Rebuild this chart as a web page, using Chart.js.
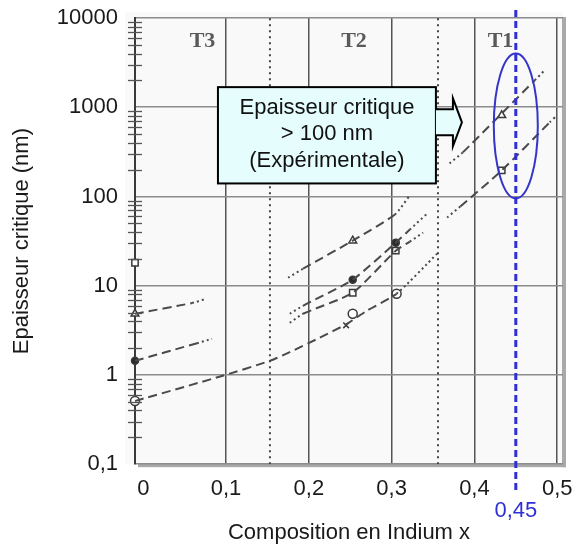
<!DOCTYPE html>
<html><head><meta charset="utf-8">
<script src="https://cdn.jsdelivr.net/npm/chart.js@4/dist/chart.umd.min.js"></script>
<style>html,body{margin:0;padding:0;background:#fff}#wrap{width:572px;height:547px}</style>
</head><body><div id="wrap"><canvas id="c" width="572" height="547"></canvas></div>
<script>
// ---- data ----
const xTicks = [0, 0.1, 0.2, 0.3, 0.4, 0.5];
const yTicks = [0.1, 1, 10, 100, 1000, 10000];
const regionNames = ['T3', 'T2', 'T1'];
const regionBounds = [0.153, 0.356];
const markedX = 0.45;
const markedLabel = '0,45';
const ellipseRange = [95, 4000];
const boxLines = ['Epaisseur critique', '> 100 nm', '(Expérimentale)'];

const curveT3Triangle = [{x:-0.01,y:4.85},{x:0.059,y:6.4},{x:0.075,y:7.1}];
const curveT3Dot      = [{x:-0.01,y:1.44},{x:0.065,y:2.27},{x:0.083,y:2.54}];
const curveCircle     = [{x:-0.01,y:0.51},{x:0.096,y:0.98},{x:0.153,y:1.44},{x:0.177,y:1.8},{x:0.213,y:2.61},{x:0.246,y:3.74},{x:0.27,y:5.24},{x:0.306,y:8.13},{x:0.355,y:22.9}];
const curveT2Dot      = [{x:0.177,y:4.85},{x:0.193,y:5.96},{x:0.253,y:11.7},{x:0.305,y:30.4},{x:0.322,y:42.6},{x:0.343,y:64.4}];
const curveT2Square   = [{x:0.177,y:3.84},{x:0.193,y:4.85},{x:0.253,y:8.35},{x:0.305,y:24.7},{x:0.322,y:31.2},{x:0.338,y:39.4}];
const curveT2Triangle = [{x:0.175,y:12.3},{x:0.193,y:15.5},{x:0.253,y:32},{x:0.304,y:62.8},{x:0.322,y:103}];
const curveT1Triangle = [{x:0.370,y:235},{x:0.386,y:312},{x:0.473,y:2009},{x:0.485,y:2605}];
const curveT1Square   = [{x:0.367,y:58.1},{x:0.383,y:77.3},{x:0.433,y:196},{x:0.491,y:678},{x:0.4997,y:813}];

const markTriangles = [{x:-0.01,y:4.85},{x:0.253,y:32},{x:0.433,y:813}];
const markDots      = [{x:-0.01,y:1.44},{x:0.253,y:11.7},{x:0.305,y:30.4}];
const markSquares   = [{x:-0.01,y:18.1},{x:0.253,y:8.35},{x:0.305,y:24.7},{x:0.433,y:196}];
const markCircles   = [{x:-0.01,y:0.51},{x:0.253,y:4.85},{x:0.306,y:8.13}];
const markCross     = [{x:0.245,y:3.6}];

// ---- styles ----
const FONT = "'Liberation Sans', Arial, sans-serif";
const INK = '#4a4a4a';
function curve(data, dotFirst, dotLast) {
  const n = data.length;
  return {
    data, showLine: true, pointRadius: 0, borderColor: INK, borderWidth: 2,
    borderDash: [9, 5], tension: 0.2, fill: false,
    segment: { borderDash: ctx => ((dotFirst && ctx.p0DataIndex === 0) || (dotLast && ctx.p1DataIndex === n - 1)) ? [2, 3] : undefined }
  };
}
function marks(data, style, filled, r) {
  return { data, showLine: false, clip: false, pointStyle: style, pointRadius: r || 4.5, borderWidth: 1.5,
    borderColor: '#3a3a3a', backgroundColor: filled ? '#2a2a2a' : '#ffffff' };
}
function separator(v) {
  return { data: [{x:v,y:yTicks[0]},{x:v,y:yTicks[yTicks.length-1]}], showLine: true, pointRadius: 0,
    borderColor: '#444', borderWidth: 2, borderDash: [2, 4] };
}

const decor = {
  id: 'decor',
  beforeDraw(chart) {
    const {ctx, chartArea: ca} = chart;
    ctx.save();
    ctx.fillStyle = '#f9f9f9';
    ctx.fillRect(ca.left - 10, ca.top - 6, ca.right - ca.left + 10, ca.bottom - ca.top + 6);
    ctx.fillStyle = '#a9a9a9';
    ctx.fillRect(ca.right - 1, ca.top - 1, 4, ca.bottom - ca.top + 4);
    ctx.fillRect(ca.left + 3, ca.bottom - 1, ca.right - ca.left, 4);
    ctx.restore();
  },
  afterDatasetsDraw(chart) {
    const {ctx, chartArea: ca, scales: {x, y}} = chart;
    ctx.save();
    ctx.strokeStyle = '#555'; ctx.lineWidth = 1.3;
    for (let d = -1; d < 4; d++) for (let m = 2; m <= 9; m++) {
      const py = Math.round(y.getPixelForValue(m * Math.pow(10, d))) + 0.5;
      ctx.beginPath(); ctx.moveTo(ca.left - 7, py); ctx.lineTo(ca.left + 7, py); ctx.stroke();
    }
    const b = [ca.left, x.getPixelForValue(regionBounds[0]), x.getPixelForValue(regionBounds[1]), ca.right];
    ctx.fillStyle = '#5a5a5a';
    ctx.font = "bold 22px 'Liberation Serif', 'Times New Roman', serif";
    ctx.textAlign = 'center'; ctx.textBaseline = 'middle';
    regionNames.forEach((t, i) => ctx.fillText(t, (b[i] + b[i + 1]) / 2, ca.top + 23));
    ctx.restore();
  },
  afterDraw(chart) {
    const {ctx, chartArea: ca, scales: {x, y}} = chart;
    ctx.save();
    const bx0 = x.getPixelForValue(0.0902), bx1 = x.getPixelForValue(0.3535);
    const by0 = y.getPixelForValue(1680), by1 = y.getPixelForValue(140);
    ctx.fillStyle = '#e6fdfd'; ctx.strokeStyle = '#000'; ctx.lineWidth = 2;
    ctx.fillRect(bx0, by0, bx1 - bx0, by1 - by0);
    ctx.strokeRect(bx0, by0, bx1 - bx0, by1 - by0);
    ctx.fillStyle = '#111'; ctx.font = '22px ' + FONT; ctx.textAlign = 'center'; ctx.textBaseline = 'middle';
    const cx = (bx0 + bx1) / 2, lh = 26.5, cy = (by0 + by1) / 2;
    boxLines.forEach((t, i) => ctx.fillText(t, cx, cy + (i - 1) * lh - 1));
    const ay = cy - 13;
    ctx.beginPath();
    ctx.moveTo(bx1, ay - 13); ctx.lineTo(bx1 + 17, ay - 13); ctx.lineTo(bx1 + 17, ay - 24);
    ctx.lineTo(bx1 + 26, ay); ctx.lineTo(bx1 + 17, ay + 24); ctx.lineTo(bx1 + 17, ay + 13);
    ctx.lineTo(bx1, ay + 13);
    ctx.fillStyle = '#e6fdfd'; ctx.fill(); ctx.lineWidth = 2; ctx.strokeStyle = '#000'; ctx.stroke();
    const ex = x.getPixelForValue(markedX);
    const ey0 = y.getPixelForValue(ellipseRange[1]), ey1 = y.getPixelForValue(ellipseRange[0]);
    ctx.beginPath(); ctx.ellipse(ex, (ey0 + ey1) / 2, 22, (ey1 - ey0) / 2, 0, 0, Math.PI * 2);
    ctx.strokeStyle = '#3535c8'; ctx.lineWidth = 2; ctx.stroke();
    ctx.beginPath(); ctx.setLineDash([7, 4]); ctx.lineWidth = 3; ctx.strokeStyle = '#2f2fd6';
    ctx.moveTo(ex, 10); ctx.lineTo(ex, ca.bottom + 26); ctx.stroke(); ctx.setLineDash([]);
    ctx.fillStyle = '#2f2fd6'; ctx.font = '22px ' + FONT;
    ctx.fillText(markedLabel, ex, ca.bottom + 47);
    ctx.restore();
  }
};

new Chart(document.getElementById('c'), {
  type: 'scatter',
  data: { datasets: [
    separator(regionBounds[0]), separator(regionBounds[1]),
    curve(curveT3Triangle, false, true), curve(curveT3Dot, false, true), curve(curveCircle, false, true),
    curve(curveT2Dot, true, true), curve(curveT2Square, true, true), curve(curveT2Triangle, true, true),
    curve(curveT1Triangle, true, true), curve(curveT1Square, true, true),
    marks(markTriangles, 'triangle', false), marks(markDots, 'circle', true, 3.5),
    marks(markSquares, 'rect', false), marks(markCircles, 'circle', false), marks(markCross, 'crossRot', false, 4)
  ]},
  options: {
    responsive: false, animation: false, devicePixelRatio: 1,
    layout: { padding: { left: 0, right: 9, top: 18, bottom: 0 } },
    plugins: { legend: { display: false }, tooltip: { enabled: false } },
    scales: {
      x: {
        type: 'linear', min: -0.01, max: 0.507,
        afterBuildTicks: s => { s.ticks = xTicks.map(v => ({ value: v })); },
        afterFit: s => { s.paddingLeft = 0; s.paddingRight = 0; },
        grid: { color: c => c.tick && c.tick.value === 0 ? 'rgba(0,0,0,0)' : '#555', lineWidth: 1.5, drawTicks: false },
        border: { display: false },
        ticks: { padding: 12, color: '#1a1a1a', font: { family: FONT, size: 22 },
          callback: v => v === 0 ? '0' : Number(v).toFixed(1).replace('.', ',') },
        title: { display: true, text: 'Composition en Indium x', color: '#1a1a1a',
          font: { family: FONT, size: 22 }, padding: { top: 5, bottom: 1 } }
      },
      y: {
        type: 'logarithmic', min: 0.1, max: 10000,
        afterBuildTicks: s => { s.ticks = yTicks.map(v => ({ value: v, major: true })); },
        afterFit: s => { s.width = 135; s.paddingTop = 0; s.paddingBottom = 0; },
        grid: { color: '#8c8c8c', lineWidth: 1.5, drawTicks: false },
        border: { display: true, color: '#3a3a3a', width: 2 },
        ticks: { padding: 17, color: '#1a1a1a', font: { family: FONT, size: 22 },
          callback: v => v === 0.1 ? '0,1' : String(v) },
        title: { display: true, text: 'Epaisseur critique (nm)', color: '#1a1a1a',
          font: { family: FONT, size: 22 }, padding: { top: 9, bottom: 0 } }
      }
    }
  },
  plugins: [decor]
});
</script></body></html>
